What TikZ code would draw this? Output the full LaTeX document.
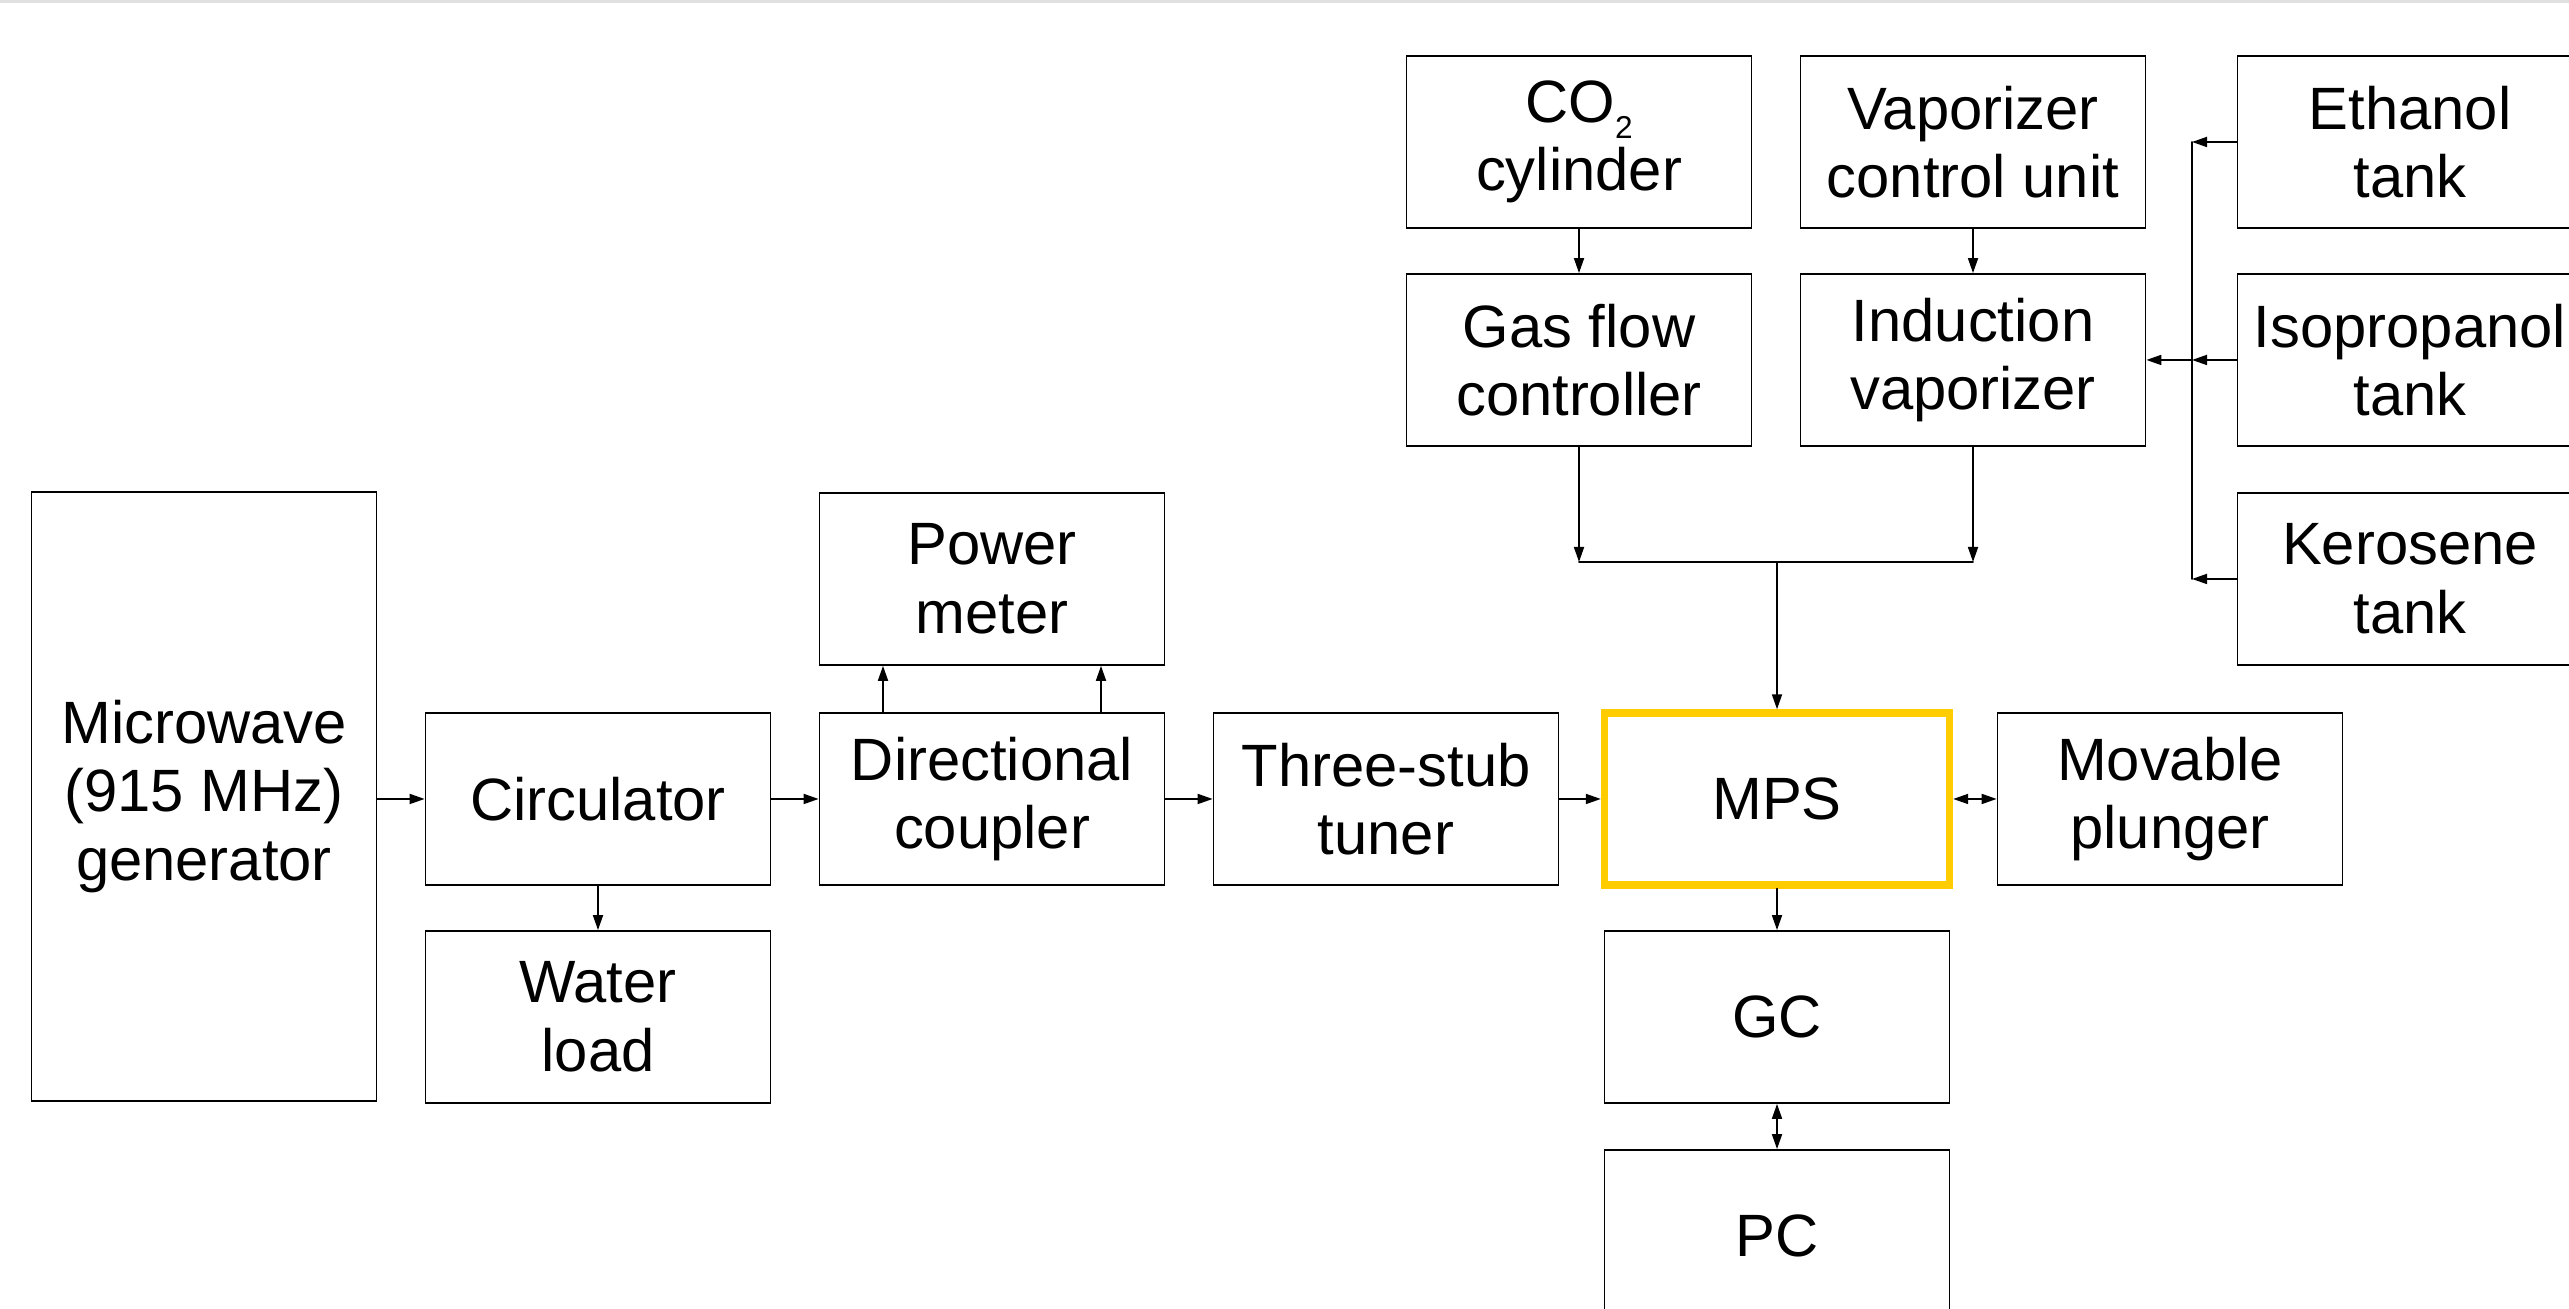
\documentclass[tikz,border=0pt]{standalone}
\usepackage{fontspec}
\setmainfont{Liberation Sans}
\usetikzlibrary{arrows.meta}
\definecolor{mpsyellow}{HTML}{FFCC00}

\begin{document}
\begin{tikzpicture}[>={Triangle[length=1.5mm,width=1mm]}, line cap=round,
  block/.style={draw, line width=0.5pt, minimum width=3.45cm, minimum height=1.72cm,
    inner sep=0pt, align=center, font=\fontsize{17}{19.5}\selectfont},
  link/.style={line width=0.5pt}]
\useasboundingbox (0,0) rectangle (25.69,13.09);
\fill[black!12] (0,13.06) rectangle (25.69,13.09);
% 微波链路
\node[block, minimum height=6.09cm] (gen) at (2.04,5.125) {Microwave\\(915 MHz)\\generator};
\node[block] (circ) at (5.98,5.10) {Circulator};
\node[block] (water) at (5.98,2.92) {Water\\load};
\node[block] (dc) at (9.92,5.10) {Directional\\coupler};
\node[block] (pm) at (9.92,7.30) {Power\\meter};
\node[block] (tuner) at (13.86,5.10) {Three-stub\\tuner};
\node[block, draw=mpsyellow, line width=2.1pt] (mps) at (17.77,5.10) {MPS};
\node[block] (plunger) at (21.70,5.10) {Movable\\plunger};
\node[block] (gc) at (17.77,2.92) {GC};
\node[block] (pc) at (17.77,0.73) {PC};
% 气体与蒸发器
\node[block] (co2) at (15.79,11.67) {CO\raisebox{-0.5ex}{\fontsize{9}{9}\selectfont 2}\\cylinder};
\node[block] (gfc) at (15.79,9.49) {Gas flow\\controller};
\node[block] (vcu) at (19.73,11.67) {Vaporizer\\control unit};
\node[block] (ivap) at (19.73,9.49) {Induction\\vaporizer};
% 燃料罐
\node[block] (eth) at (24.10,11.67) {Ethanol\\tank};
\node[block] (iso) at (24.10,9.49) {Isopropanol\\tank};
\node[block] (ker) at (24.10,7.30) {Kerosene\\tank};
% 连线
\draw[link,->] (gen.east |- circ.west) -- (circ.west);
\draw[link,->] (circ) -- (dc);
\draw[link,->] (dc) -- (tuner);
\draw[link,->] (tuner) -- (mps);
\draw[link,<->] (mps) -- (plunger);
\draw[link,->] (circ) -- (water);
\draw[link,->] ([xshift=-1.09cm]dc.north) -- ([xshift=-1.09cm]pm.south);
\draw[link,->] ([xshift=1.09cm]dc.north) -- ([xshift=1.09cm]pm.south);
\draw[link,->] (mps) -- (gc);
\draw[link,<->] (gc) -- (pc);
\draw[link,->] (co2) -- (gfc);
\draw[link,->] (vcu) -- (ivap);
% 汇合
\coordinate (merge) at (17.77,7.47);
\draw[link,->] (gfc.south) -- (gfc.south |- merge);
\draw[link,->] (ivap.south) -- (ivap.south |- merge);
\draw[link] (gfc.south |- merge) -- (ivap.south |- merge);
\draw[link,->] (merge) -- (mps.north);
% 燃料总管
\coordinate (bus) at (21.92,9.49);
\draw[link,->] (eth.west) -- (eth.west -| bus);
\draw[link,->] (iso.west) -- (iso.west -| bus);
\draw[link,->] (ker.west) -- (ker.west -| bus);
\draw[link] (eth.west -| bus) -- (ker.west -| bus);
\draw[link,->] (bus) -- (ivap.east);
\end{tikzpicture}
\end{document}
